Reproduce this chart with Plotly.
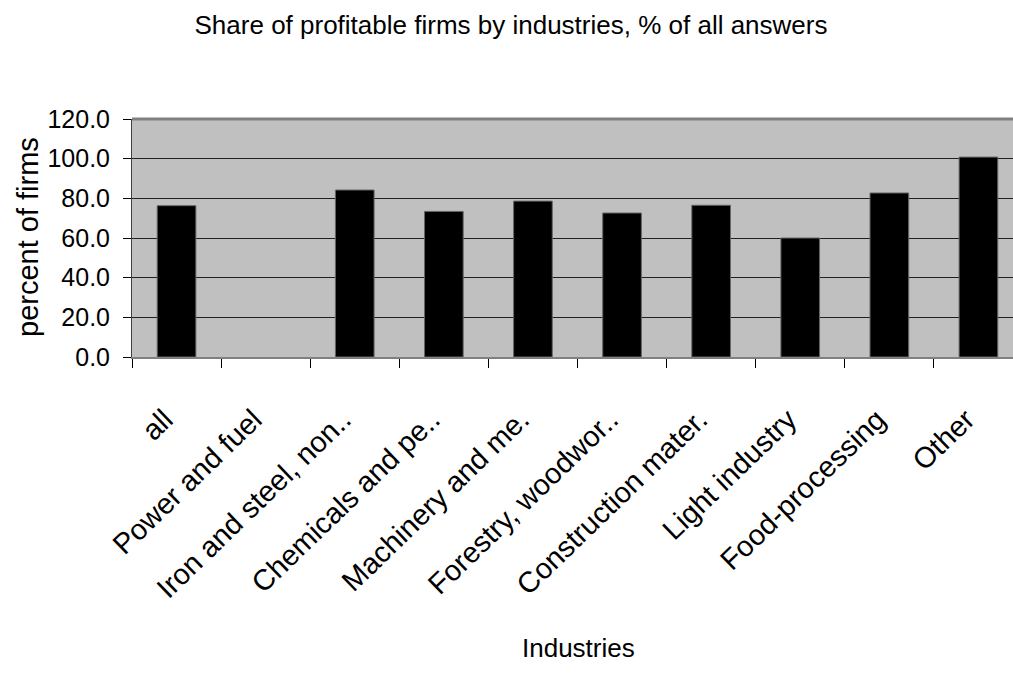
import plotly.graph_objects as go

categories = ["all", "Power and fuel", "Iron and steel, non..", "Chemicals and pe..",
              "Machinery and me.", "Forestry, woodwor..", "Construction mater.",
              "Light industry", "Food-processing", "Other"]
values = [76.3, None, 84.2, 73.4, 78.6, 72.6, 76.5, 60.0, 82.7, 100.8]
y_ticks = [0, 20, 40, 60, 80, 100, 120]
y_tick_labels = ["0.0", "20.0", "40.0", "60.0", "80.0", "100.0", "120.0"]

FONT = "Liberation Sans, Arial, sans-serif"

W, H = 1013, 688
L, T, BOTTOM = 132, 119, 357
PLOT_W = W - L
PLOT_H = BOTTOM - T

fig = go.Figure(go.Bar(
    x=categories, y=values,
    marker=dict(color="black", line=dict(color="#666666", width=1)),
))

fig.update_layout(
    width=W, height=H,
    margin=dict(l=L, r=0, t=T, b=H - BOTTOM),
    paper_bgcolor="white", plot_bgcolor="#C0C0C0",
    font=dict(family=FONT, color="black"),
    bargap=0.566,
    showlegend=False,
    title=dict(text="Share of profitable firms by industries, % of all answers",
               x=511 / W, xref="container", y=1 - 25 / H, yref="container",
               xanchor="center", yanchor="middle",
               font=dict(family=FONT, size=26, color="black")),
    xaxis=dict(
        type="category", range=[-0.5, -0.5 + PLOT_W / 89.1],
        tickangle=-44, tickson="boundaries", ticks="outside", ticklen=9,
        tickcolor="black", tickfont=dict(family=FONT, size=29),
        ticklabelstandoff=32, ticklabelshift=-12,
        showline=True, linecolor="#808080", linewidth=2,
        showgrid=False, zeroline=False,
    ),
    yaxis=dict(
        range=[0, 120], tickvals=y_ticks, ticktext=y_tick_labels,
        ticks="outside", ticklen=8, tickcolor="black",
        tickfont=dict(family=FONT, size=25), ticklabelstandoff=8,
        showline=True, linecolor="#404040", linewidth=1,
        showgrid=True, gridcolor="#202020", gridwidth=1,
        zeroline=False,
    ),
    shapes=[dict(type="line", xref="paper", yref="paper", x0=0, x1=1, y0=1, y1=1,
                 line=dict(color="#808080", width=3))],
    annotations=[
        dict(text="percent of firms", xref="paper", yref="paper",
             x=(28 - L) / PLOT_W, y=(BOTTOM - 237) / PLOT_H, textangle=-90, showarrow=False,
             xanchor="center", yanchor="middle", font=dict(family=FONT, size=29)),
        dict(text="Industries", xref="paper", yref="paper",
             x=(578 - L) / PLOT_W, y=(BOTTOM - 648) / PLOT_H, showarrow=False,
             xanchor="center", yanchor="middle", font=dict(family=FONT, size=26)),
    ],
)

fig.write_html("out.html", config={"displayModeBar": False},
               post_script="document.body.style.margin='0';document.body.style.overflow='hidden';")
